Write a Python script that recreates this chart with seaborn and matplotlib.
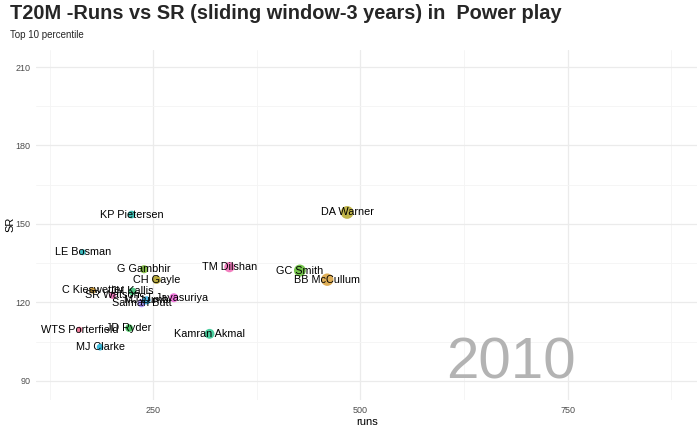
import pandas as pd
import seaborn as sns
import matplotlib.pyplot as plt

# data (2010 frame)
players = ["KP Pietersen", "LE Bosman", "G Gambhir", "CH Gayle", "C Kieswetter",
           "JH Kallis", "SR Watson", "Salman Butt", "MJ Lumb", "ST Jayasuriya",
           "WTS Porterfield", "JD Ryder", "MJ Clarke", "Kamran Akmal",
           "TM Dilshan", "GC Smith", "BB McCullum", "DA Warner"]
runs = [224, 165, 239, 254, 177, 225, 201, 236, 242, 275,
        161, 221, 186, 318, 342, 427, 460, 484]
sr = [153.6, 139.2, 132.7, 128.7, 124.6, 124.2, 122.7, 119.7, 120.8, 121.8,
      109.6, 110.2, 102.9, 108.0, 133.5, 132.2, 128.7, 154.4]
year = "2010"

palette = {
    "KP Pietersen": "#1DB3A6", "LE Bosman": "#19AFB5", "G Gambhir": "#74B72E",
    "CH Gayle": "#AE9C1E", "C Kieswetter": "#D89E2A", "JH Kallis": "#2DBE6C",
    "SR Watson": "#E85FB0", "Salman Butt": "#A58AFF", "MJ Lumb": "#2BA8E0",
    "ST Jayasuriya": "#EE5FD8", "WTS Porterfield": "#F0648A", "JD Ryder": "#2DB74A",
    "MJ Clarke": "#1AB0D6", "Kamran Akmal": "#2CC68E", "TM Dilshan": "#F069B4",
    "GC Smith": "#5DBA2D", "BB McCullum": "#D9A03A", "DA Warner": "#B5A82A",
}

df = pd.DataFrame({"player": players, "runs": runs, "SR": sr})

sns.set_theme(style="whitegrid")
plt.rcParams['font.family'] = ['Liberation Sans', 'DejaVu Sans']

fig, ax = plt.subplots(figsize=(7, 4.32), dpi=100)
fig.subplots_adjust(left=36/700, right=697/700, top=1-50/432, bottom=1-400/432)

sns.scatterplot(data=df, x="runs", y="SR", hue="player", size="runs",
                palette=palette, sizes=(18, 85), alpha=0.85,
                linewidth=0, legend=False, ax=ax, zorder=3)

for _, r in df.iterrows():
    ax.text(r["runs"], r["SR"], r["player"], ha="center", va="center",
            fontsize=7.8, color="black", zorder=4)

# big year label
ax.text(681, 91, year, ha="center", va="baseline", fontsize=42,
        color="#B3B3B3", zorder=2)

ax.set_xlim(108.7, 906)
ax.set_ylim(82.7, 216.5)
ax.set_xticks([250, 500, 750])
ax.set_yticks([90, 120, 150, 180, 210])
ax.set_xticks([125, 375, 625, 875], minor=True)
ax.set_yticks([105, 135, 165, 195], minor=True)
ax.grid(which="major", color="#EBEBEB", linewidth=0.9)
ax.grid(which="minor", color="#F4F4F4", linewidth=0.6)
ax.set_facecolor("white")
for s in ax.spines.values():
    s.set_visible(False)
ax.tick_params(axis="both", which="both", length=0, labelsize=6.5,
               labelcolor="#4D4D4D", pad=4)

ax.set_xlabel("runs", fontsize=8, color="black")
ax.set_ylabel("SR", fontsize=8, color="black")
ax.xaxis.set_label_coords((367 - 36) / 661, -17 / 350)
ax.yaxis.set_label_coords(-21 / 661, (400 - 224) / 350)

fig.text(10/700, 1-4/432, "T20M -Runs vs SR (sliding window-3 years) in  Power play",
         ha="left", va="top", fontsize=14.4, fontweight="bold")
fig.text(10/700, 1-30/432, "Top 10 percentile", ha="left", va="top", fontsize=7)

fig.savefig("out.png", dpi=100, facecolor="white")
